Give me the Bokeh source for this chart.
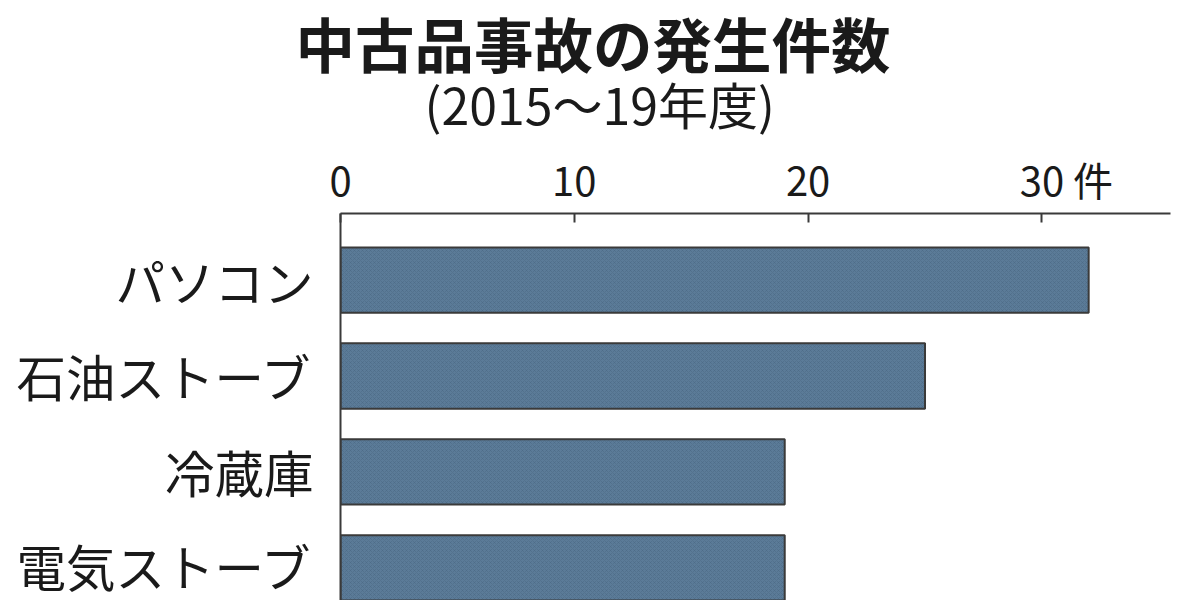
from bokeh.plotting import figure
from bokeh.models import Range1d, Title, FixedTicker
from bokeh.embed import file_html
from bokeh.resources import INLINE

# data (件, 2015-19年度)
categories = ["パソコン", "石油ストーブ", "冷蔵庫", "電気ストーブ"]
counts = [32, 25, 19, 19]
positions = [1, 2, 3, 4]
x_ticks = [0, 10, 20, 30]
x_labels = ["0", "10", "20", "\u3000\u00a030\u00a0件"]

FONT = "Noto Sans CJK JP"
INK = "#1a1a1a"
LINE = "#3a3a3a"

p = figure(width=1200, height=600, output_backend="svg", toolbar_location=None,
           title="中古品事故の発生件数", x_axis_location="above",
           x_range=Range1d(0, 35.5), y_range=Range1d(4.339, 0.307),
           min_border_left=340, min_border_right=30, min_border_bottom=0, min_border_top=213)

p.hbar(y=positions, right=counts, left=0, height=0.68,
       fill_color="#5b7b98", line_color=LINE, line_width=2,
       hatch_pattern="diagonal_cross", hatch_scale=4, hatch_color="#4a6680",
       hatch_alpha=0.45, hatch_weight=1)

# title + subtitle
p.title.text_font = FONT
p.title.text_font_size = "59.5px"
p.title.text_font_style = "bold"
p.title.text_color = INK
p.title.align = "left"
p.title.offset = -45
p.title.standoff = -54

sub = Title(text="(2015〜19年度)", align="left", offset=84, text_font=FONT,
            text_font_size="50px", text_font_style="normal", text_color=INK, standoff=15)
p.add_layout(sub, "above")

# x axis on top
xa = p.xaxis[0]
xa.ticker = FixedTicker(ticks=x_ticks)
xa.major_label_overrides = {t: s for t, s in zip(x_ticks, x_labels)}
xa.major_tick_in = 9
xa.major_tick_out = 0
xa.minor_tick_line_color = None
xa.major_tick_line_color = LINE
xa.major_tick_line_width = 2
xa.axis_line_color = LINE
xa.axis_line_width = 2
xa.major_label_text_font = FONT
xa.major_label_text_font_size = "40px"
xa.major_label_text_color = INK
xa.major_label_standoff = 6

# category axis on the left
ya = p.yaxis[0]
ya.ticker = FixedTicker(ticks=positions)
ya.major_label_overrides = {pos: cat for pos, cat in zip(positions, categories)}
ya.major_tick_line_color = None
ya.minor_tick_line_color = None
ya.axis_line_color = LINE
ya.axis_line_width = 2
ya.major_label_text_font = FONT
ya.major_label_text_font_size = "49.5px"
ya.major_label_text_color = INK
ya.major_label_standoff = 21

p.grid.visible = False
p.outline_line_color = None
p.background_fill_color = "white"

open("out.html", "w").write(file_html(p, INLINE))
